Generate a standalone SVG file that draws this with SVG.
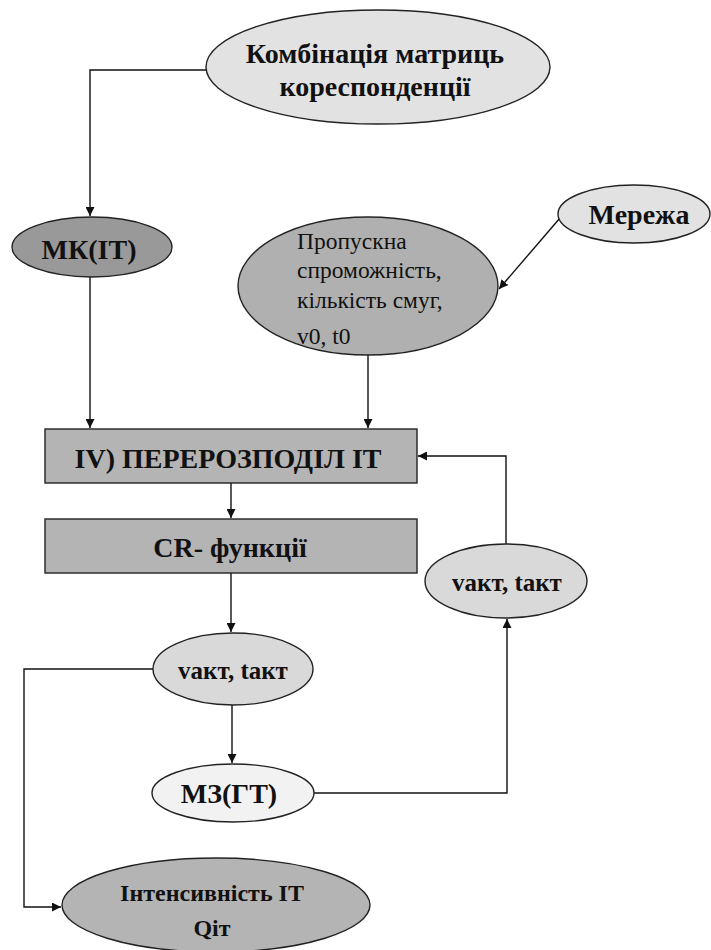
<svg xmlns="http://www.w3.org/2000/svg" width="711" height="950" viewBox="0 0 711 950">
<defs>
<style>
.n{stroke:#222;stroke-width:1.4}
.c{fill:none;stroke:#111;stroke-width:1.4}
.b{font-family:'Liberation Serif','Tinos','DejaVu Serif',serif;font-weight:bold;fill:#111;text-anchor:middle}
.r{font-family:'Liberation Serif','Tinos','DejaVu Serif',serif;fill:#111;font-size:23.5px}
</style>
<marker id="ar" viewBox="0 0 10 10" refX="10" refY="5" markerWidth="9" markerHeight="9" markerUnits="userSpaceOnUse" orient="auto">
<path d="M0,0 L10,5 L0,10 z" fill="#111"/>
</marker>
</defs>
<rect width="711" height="950" fill="#fff"/>
<g id="connectors">
<path class="c" d="M206,70 H90 V216" marker-end="url(#ar)"/>
<path class="c" d="M90,277 V428" marker-end="url(#ar)"/>
<path class="c" d="M368,355 V428" marker-end="url(#ar)"/>
<path class="c" d="M560,218 L499,289" marker-end="url(#ar)"/>
<path class="c" d="M231,483 V518" marker-end="url(#ar)"/>
<path class="c" d="M231,573 V632" marker-end="url(#ar)"/>
<path class="c" d="M232,705 V763" marker-end="url(#ar)"/>
<path class="c" d="M314,793 H507 V619" marker-end="url(#ar)"/>
<path class="c" d="M506,544 V456 H418" marker-end="url(#ar)"/>
<path class="c" d="M153,669 H24 V907 H61" marker-end="url(#ar)"/>
</g>
<g id="combo">
<ellipse class="n" cx="378" cy="67" rx="172" ry="57" fill="#e2e2e2"/>
<text class="b" x="375" y="63" font-size="28">Комбінація матриць</text>
<text class="b" x="375" y="96" font-size="28">кореспонденції</text>
</g>
<g id="mk">
<ellipse class="n" cx="92" cy="247" rx="80" ry="30" fill="#999"/>
<text class="b" x="89" y="259" font-size="28">МК(ІТ)</text>
</g>
<g id="capacity">
<ellipse class="n" cx="368" cy="286" rx="130" ry="69" fill="#b0b0b0"/>
<text class="r" x="297" y="249">Пропускна</text>
<text class="r" x="297" y="278">спроможність,</text>
<text class="r" x="297" y="308">кількість смуг,</text>
<text class="r" x="297" y="344">v0, t0</text>
</g>
<g id="network">
<ellipse class="n" cx="634" cy="214" rx="76" ry="29" fill="#e2e2e2"/>
<text class="b" x="639" y="224" font-size="28">Мережа</text>
</g>
<g id="redistribution">
<rect class="n" x="45" y="429" width="372" height="54" fill="#b4b4b4"/>
<text class="b" x="228" y="468" font-size="28">IV) ПЕРЕРОЗПОДІЛ ІТ</text>
</g>
<g id="cr">
<rect class="n" x="45" y="519" width="372" height="54" fill="#b4b4b4"/>
<text class="b" x="230" y="557" font-size="28">CR- функції</text>
</g>
<g id="vakt-right">
<ellipse class="n" cx="506" cy="581" rx="81" ry="37" fill="#d9d9d9"/>
<text class="b" x="507" y="591" font-size="25">vакт, tакт</text>
</g>
<g id="vakt-mid">
<ellipse class="n" cx="233" cy="669" rx="80" ry="36" fill="#d9d9d9"/>
<text class="b" x="233" y="679" font-size="25">vакт, tакт</text>
</g>
<g id="mz">
<ellipse class="n" cx="233" cy="793" rx="81" ry="29" fill="#f2f2f2"/>
<text class="b" x="229" y="803" font-size="28">МЗ(ГТ)</text>
</g>
<g id="intensity">
<ellipse class="n" cx="216" cy="905" rx="154" ry="47" fill="#b4b4b4"/>
<text class="b" x="212" y="901" font-size="24">Інтенсивність ІТ</text>
<text class="b" x="212" y="936" font-size="24">Qiт</text>
</g>
</svg>
